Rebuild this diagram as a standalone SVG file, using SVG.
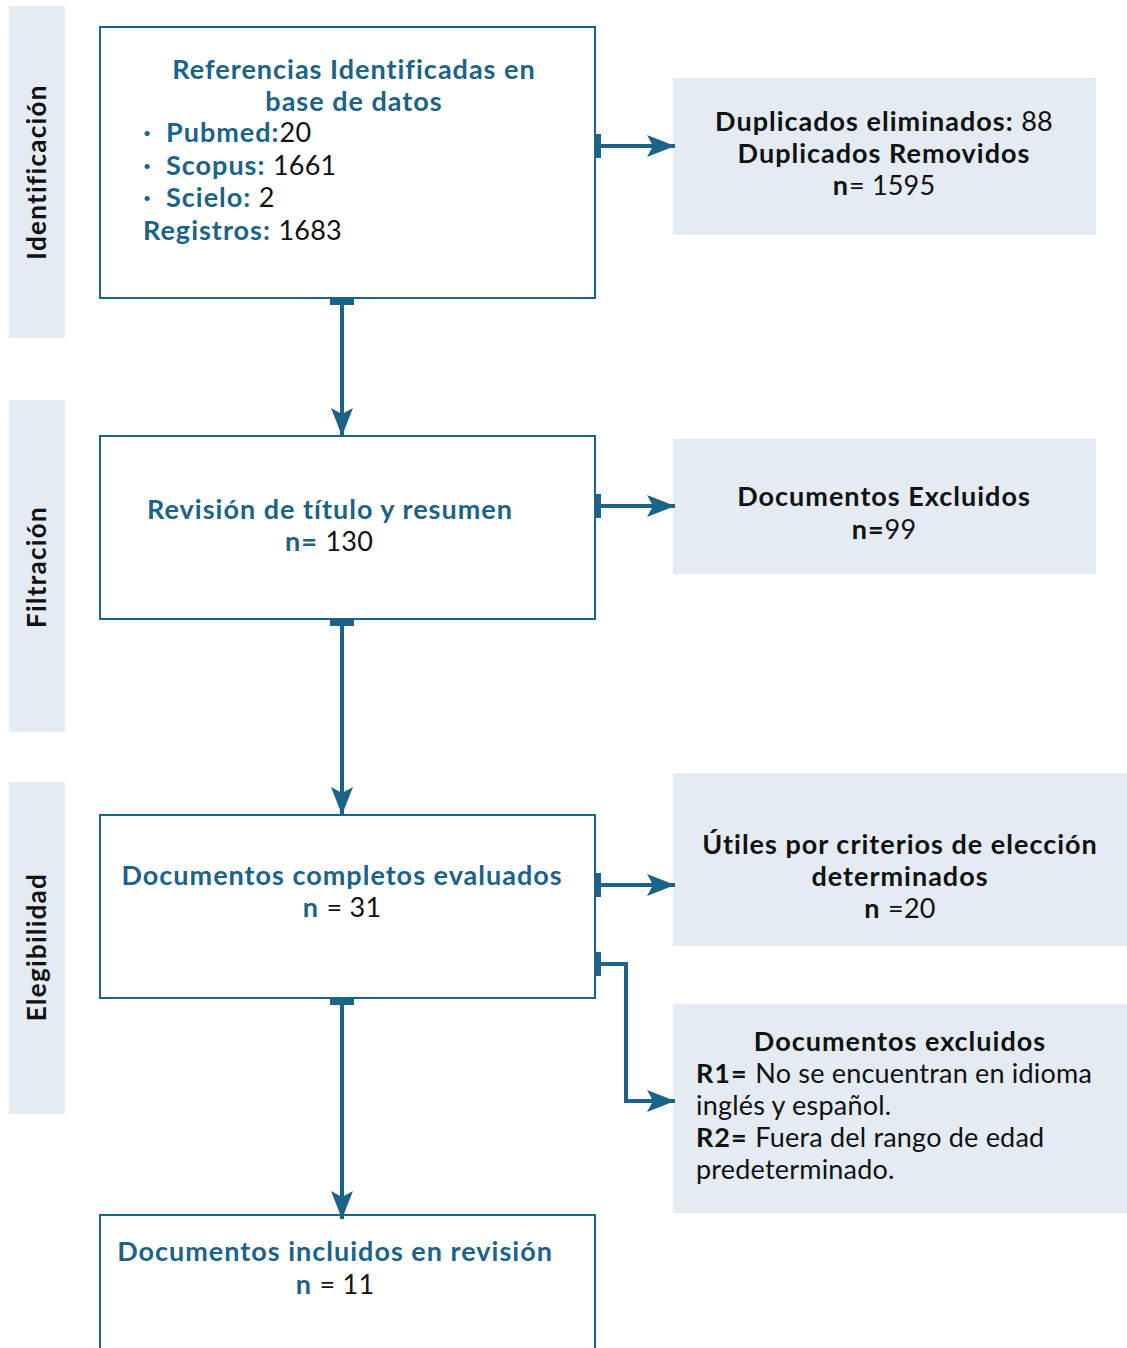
<svg xmlns="http://www.w3.org/2000/svg" width="1127" height="1348" viewBox="0 0 1127 1348">
<style>
.side{fill:#e4ebf2}
.gray{fill:#e4ebf2}
.box{fill:#fff;stroke:#1b6389;stroke-width:2}
.t{font-family:Lato,"Noto Sans",sans-serif;font-size:27px;letter-spacing:0.2px}
.b{font-weight:bold;letter-spacing:1px}
.blue{fill:#1b6389}
.blk{fill:#111}
.norm{font-weight:normal;fill:#111;letter-spacing:0.2px}
.nw{font-weight:normal;letter-spacing:0.2px}
.dot{font-family:Lato,"Noto Sans",sans-serif;font-size:14px;fill:#1b6389}
.side-t{font-family:Lato,"Noto Sans",sans-serif;font-size:26px;font-weight:bold;fill:#111;letter-spacing:1.3px}
.line{fill:none;stroke:#1b6389;stroke-width:4}
.bar{fill:#1b6389}
</style>
<defs>
<marker id="ah" markerUnits="userSpaceOnUse" viewBox="0 0 28 22" refX="28" refY="11" markerWidth="28" markerHeight="22" orient="auto">
<path d="M0,0 L28,11 L0,22 L6,11 Z" fill="#1b6389"/>
</marker>
</defs>
<g id="phase-identificacion">
<rect class="side" x="9" y="6" width="56" height="332"/>
<text class="side-t" transform="translate(46,172) rotate(-90)" text-anchor="middle">Identificación</text>
</g>
<g id="phase-filtracion">
<rect class="side" x="9" y="400" width="56" height="332"/>
<text class="side-t" transform="translate(46,567) rotate(-90)" text-anchor="middle">Filtración</text>
</g>
<g id="phase-elegibilidad">
<rect class="side" x="9" y="782" width="56" height="332"/>
<text class="side-t" transform="translate(46,947) rotate(-90)" text-anchor="middle">Elegibilidad</text>
</g>
<g id="node-referencias">
<rect class="box" x="100" y="27" width="495" height="271"/>
<text class="t b blue" x="354" y="79" text-anchor="middle">Referencias Identificadas en</text>
<text class="t b blue" x="354" y="111" text-anchor="middle">base de datos</text>
<text class="dot" x="143" y="138">•</text>
<text class="t b blue" x="166" y="142">Pubmed:<tspan class="norm">20</tspan></text>
<text class="dot" x="143" y="171">•</text>
<text class="t b blue" x="166" y="175">Scopus: <tspan class="norm">1661</tspan></text>
<text class="dot" x="143" y="203">•</text>
<text class="t b blue" x="166" y="207">Scielo: <tspan class="norm">2</tspan></text>
<text class="t b blue" x="143" y="240">Registros: <tspan class="norm">1683</tspan></text>
</g>
<g id="node-duplicados">
<rect class="gray" x="673" y="78" width="423" height="157"/>
<text class="t b blk" x="884" y="131" text-anchor="middle">Duplicados eliminados: <tspan class="nw">88</tspan></text>
<text class="t b blk" x="884" y="163" text-anchor="middle">Duplicados Removidos</text>
<text class="t b blk" x="884" y="195" text-anchor="middle">n<tspan class="nw">= 1595</tspan></text>
</g>
<g id="node-revision">
<rect class="box" x="100" y="436" width="495" height="183"/>
<text class="t b blue" x="330" y="519" text-anchor="middle">Revisión de título y resumen</text>
<text class="t b blue" x="329" y="551" text-anchor="middle">n= <tspan class="norm">130</tspan></text>
</g>
<g id="node-excluidos1">
<rect class="gray" x="673" y="439" width="423" height="135"/>
<text class="t b blk" x="884" y="506" text-anchor="middle">Documentos Excluidos</text>
<text class="t b blk" x="884" y="539" text-anchor="middle">n=<tspan class="nw">99</tspan></text>
</g>
<g id="node-completos">
<rect class="box" x="100" y="815" width="495" height="183"/>
<text class="t b blue" x="342" y="885" text-anchor="middle">Documentos completos evaluados</text>
<text class="t b blue" x="342" y="917" text-anchor="middle">n <tspan class="norm">= 31</tspan></text>
</g>
<g id="node-utiles">
<rect class="gray" x="673" y="773" width="454" height="173"/>
<text class="t b blk" x="900" y="854" text-anchor="middle">Útiles por criterios de elección</text>
<text class="t b blk" x="900" y="886" text-anchor="middle">determinados</text>
<text class="t b blk" x="900" y="918" text-anchor="middle">n <tspan class="nw">=20</tspan></text>
</g>
<g id="node-excluidos2">
<rect class="gray" x="673" y="1004" width="454" height="209"/>
<text class="t b blk" x="900" y="1051" text-anchor="middle">Documentos excluidos</text>
<text class="t b blk" x="696" y="1083">R1= <tspan class="nw">No se encuentran en idioma</tspan></text>
<text class="t blk" x="696" y="1115">inglés y español.</text>
<text class="t b blk" x="696" y="1147">R2= <tspan class="nw">Fuera del rango de edad</tspan></text>
<text class="t blk" x="696" y="1179">predeterminado.</text>
</g>
<g id="node-incluidos">
<rect class="box" x="100" y="1215" width="495" height="140"/>
<text class="t b blue" x="335" y="1261" text-anchor="middle">Documentos incluidos en revisión</text>
<text class="t b blue" x="335" y="1294" text-anchor="middle">n <tspan class="norm">= 11</tspan></text>
</g>
<g id="connectors">
<rect class="bar" x="330" y="299" width="24" height="6"/>
<line class="line" x1="342" y1="299" x2="342" y2="436" marker-end="url(#ah)"/>
<rect class="bar" x="330" y="620" width="24" height="6"/>
<line class="line" x1="342" y1="620" x2="342" y2="815" marker-end="url(#ah)"/>
<rect class="bar" x="330" y="999" width="24" height="6"/>
<line class="line" x1="342" y1="999" x2="342" y2="1219" marker-end="url(#ah)"/>
<rect class="bar" x="595" y="134" width="6" height="24"/>
<line class="line" x1="596" y1="146" x2="675" y2="146" marker-end="url(#ah)"/>
<rect class="bar" x="595" y="494" width="6" height="24"/>
<line class="line" x1="596" y1="506" x2="675" y2="506" marker-end="url(#ah)"/>
<rect class="bar" x="595" y="873" width="6" height="24"/>
<line class="line" x1="596" y1="885" x2="675" y2="885" marker-end="url(#ah)"/>
<rect class="bar" x="595" y="952" width="6" height="24"/>
<polyline class="line" points="596,964 626,964 626,1101 675,1101" marker-end="url(#ah)"/>
</g>
</svg>
